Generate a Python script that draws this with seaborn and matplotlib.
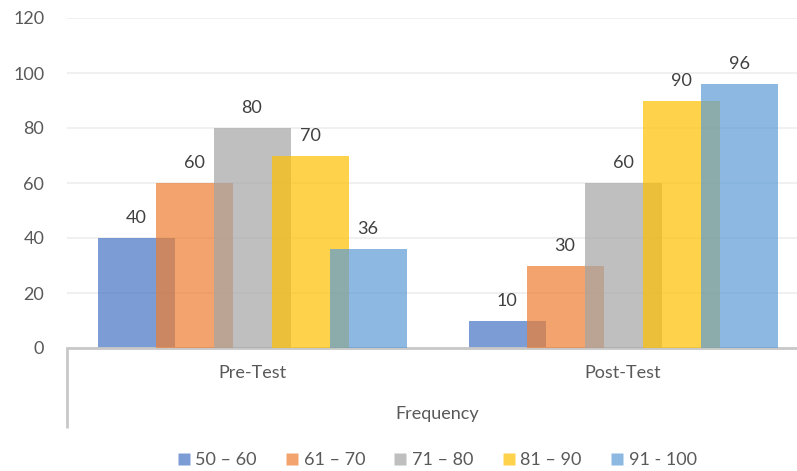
import matplotlib
matplotlib.use("Agg")
import matplotlib.pyplot as plt
from matplotlib.lines import Line2D
import seaborn as sns
import pandas as pd

groups = ["Pre-Test", "Post-Test"]
series = ["50 – 60", "61 – 70", "71 – 80", "81 – 90", "91 - 100"]
pre_values = [40, 60, 80, 70, 36]
post_values = [10, 30, 60, 90, 96]
colors = ["#4472C4", "#ED7D31", "#A5A5A5", "#FFC000", "#5B9BD5"]
yticks = [0, 20, 40, 60, 80, 100, 120]
axis_title = "Frequency"

rows = []
for s, a, b in zip(series, pre_values, post_values):
    rows.append({"group": groups[0], "series": s, "value": a})
    rows.append({"group": groups[1], "series": s, "value": b})
df = pd.DataFrame(rows)

sns.set_theme(style="white")
plt.rcParams["font.family"] = ["Lato", "DejaVu Sans"]
text_col = "#595959"

W, H = 797, 471
fig = plt.figure(figsize=(W / 100, H / 100), dpi=100)
ax = fig.add_axes([66.5 / W, 123 / H, 742 / W, 330 / H])

sns.barplot(data=df, x="group", y="value", hue="series", order=groups,
            hue_order=series, palette=colors, alpha=0.7, saturation=1,
            errorbar=None, dodge=True, width=0.8, legend=False, ax=ax,
            linewidth=0)

bar_w = 77 / 371
step = 58 / 371
for i, cont in enumerate(ax.containers):
    for bar in cont:
        c = round(bar.get_x() + bar.get_width() / 2)
        bar.set_x(c + (i - 2) * step - bar_w / 2)
        bar.set_width(bar_w)
        bar.set_zorder(2 + i)
    ax.bar_label(cont, fmt="%d", padding=8.5, fontsize=13, color="#404040")

ax.set_xlim(-0.5, 1.5)
ax.set_ylim(0, 120)
ax.set_yticks(yticks)
ax.yaxis.grid(True, color="#EDEDED", linewidth=1.2)
ax.set_axisbelow(True)
for sp in ["top", "right", "left"]:
    ax.spines[sp].set_visible(False)
ax.spines["bottom"].set_color("#C8C8C8")
ax.spines["bottom"].set_linewidth(2)
ax.tick_params(axis="y", length=0, pad=16, labelsize=13, labelcolor=text_col)
ax.tick_params(axis="x", length=0, pad=12, labelsize=13, labelcolor=text_col)
ax.set_xlabel("")
ax.set_ylabel("")

# multi-level category axis left line
ax.plot([0, 0], [0, -80 / 330], transform=ax.transAxes, color="#C8C8C8",
        linewidth=2, clip_on=False, solid_capstyle="butt")
ax.text(0.5, -66 / 330, axis_title, transform=ax.transAxes, ha="center",
        va="center", fontsize=13, color=text_col)

handles = [Line2D([0], [0], marker="s", linestyle="none", markersize=8,
                  markerfacecolor=c, markeredgecolor="none", alpha=0.7)
           for c in colors]
fig.legend(handles, series, loc="center", bbox_to_anchor=(437 / W, 11 / H),
           ncol=5, frameon=False, fontsize=13, handlelength=0.7,
           handletextpad=0.3, columnspacing=1.6, labelcolor=text_col)

fig.savefig("out.png", dpi=100)
